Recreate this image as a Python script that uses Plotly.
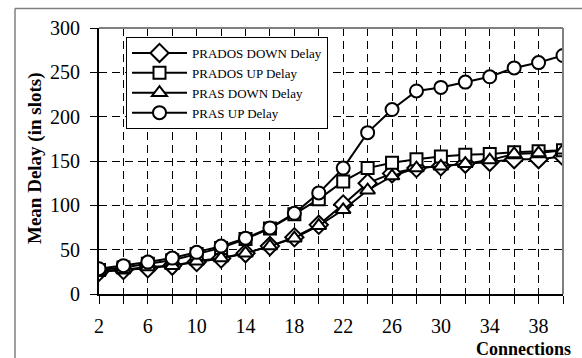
import plotly.graph_objects as go

connections = [2, 4, 6, 8, 10, 12, 14, 16, 18, 20, 22, 24, 26, 28, 30, 32, 34, 36, 38, 40]
prados_down = [25, 27, 29, 32, 36, 40, 46, 54, 64, 78, 101, 125, 136, 142, 144, 147, 149, 152, 152, 155]
prados_up = [27, 30, 34, 38, 45, 52, 62, 74, 90, 107, 127, 142, 148, 152, 155, 157, 158, 160, 161, 162]
pras_down = [25.5, 27.5, 30.5, 32, 37, 40.5, 46, 54, 63, 77, 95, 117, 133, 142, 144, 147, 151, 158, 159, 162]
pras_up = [28.5, 32, 36, 40.5, 47, 54, 63, 74.5, 91, 114, 142, 182, 208, 229, 233, 239, 245, 255, 261, 269]

series = [
    ("PRADOS DOWN Delay", prados_down, "diamond", 14),
    ("PRADOS UP Delay", prados_up, "square", 12),
    ("PRAS DOWN Delay", pras_down, "triangle-up", 13),
    ("PRAS UP Delay", pras_up, "circle", 13),
]

x_tickvals = list(range(2, 41, 2))
x_ticktext = [str(v) if (v - 2) % 4 == 0 and v <= 38 else "" for v in x_tickvals]
y_tickvals = [0, 50, 100, 150, 200, 250, 300]

FONT = "Liberation Serif, Times New Roman, serif"

fig = go.Figure()
for name, vals, sym, sz in series:
    fig.add_trace(go.Scatter(
        x=connections, y=vals, name=name, mode="lines+markers",
        line=dict(color="black", width=2),
        marker=dict(symbol=sym, size=sz, color="white", line=dict(color="black", width=2)),
    ))

L, R, T, B = 99, 19, 28, 64
W, H = 582, 358
pw, ph = W - L - R, H - T - B

def px_x(p):
    return (p - L) / pw

def px_y(p):
    return (H - B - p) / ph

fig.update_layout(
    width=W, height=H,
    margin=dict(l=L, r=R, t=T, b=B),
    paper_bgcolor="white", plot_bgcolor="white",
    font=dict(family=FONT, color="black", size=20),
    showlegend=True,
    legend=dict(
        x=px_x(126), y=px_y(37), xanchor="left", yanchor="top",
        bordercolor="black", borderwidth=1, bgcolor="white",
        font=dict(family=FONT, size=13, color="black"),
        itemwidth=55,
    ),
    xaxis=dict(
        range=[2, 40], tickvals=x_tickvals, ticktext=x_ticktext,
        showgrid=True, gridcolor="black", gridwidth=1, griddash="8px,5px",
        showline=True, linecolor="black", linewidth=2,
        ticks="outside", ticklen=8, tickwidth=1, tickcolor="black",
        zeroline=False, tickfont=dict(size=20, family=FONT),
        ticklabelstandoff=5,
    ),
    yaxis=dict(
        range=[0, 300], tickvals=y_tickvals,
        showgrid=True, gridcolor="black", gridwidth=1, griddash="8px,5px",
        showline=True, linecolor="black", linewidth=2,
        ticks="outside", ticklen=7, tickwidth=1, tickcolor="black",
        zeroline=False, tickfont=dict(size=20, family=FONT),
        ticklabelstandoff=6,
    ),
    xaxis2=dict(
        range=[2, 40], tickvals=x_tickvals, overlaying="x", side="bottom",
        anchor="y", showgrid=False, showticklabels=False, ticks="inside",
        ticklen=5, tickwidth=1, tickcolor="black", showline=False, zeroline=False,
    ),
    yaxis2=dict(
        range=[0, 300], tickvals=y_tickvals, overlaying="y", side="left",
        anchor="x", showgrid=False, showticklabels=False, ticks="inside",
        ticklen=5, tickwidth=1, tickcolor="black", showline=False, zeroline=False,
    ),
    shapes=[
        dict(type="line", xref="paper", yref="paper", x0=0, x1=1, y0=1, y1=1,
             line=dict(color="#808080", width=2)),
        dict(type="line", xref="paper", yref="paper", x0=1, x1=1, y0=0, y1=1,
             line=dict(color="#808080", width=2)),
        dict(type="line", xref="paper", yref="paper", x0=px_x(15), x1=px_x(15),
             y0=px_y(8.5), y1=px_y(360), line=dict(color="#404040", width=1)),
        dict(type="line", xref="paper", yref="paper", x0=px_x(15), x1=px_x(584),
             y0=px_y(8.5), y1=px_y(8.5), line=dict(color="#808080", width=1.5)),
    ],
    annotations=[
        dict(text="<b>Mean Delay (in slots)</b>", xref="paper", yref="paper",
             x=px_x(35), y=px_y(158), xanchor="center", yanchor="middle",
             textangle=-90, showarrow=False, font=dict(size=19, family=FONT)),
        dict(text="<b>Connections</b>", xref="paper", yref="paper",
             x=px_x(573), y=px_y(349), xanchor="right", yanchor="middle",
             showarrow=False, font=dict(size=18, family=FONT)),
    ],
)

# invisible trace to activate overlay axes
fig.add_trace(go.Scatter(x=[2], y=[0], xaxis="x2", yaxis="y2", mode="markers",
                         marker=dict(opacity=0), showlegend=False, hoverinfo="skip"))

fig.write_html("out.html")
